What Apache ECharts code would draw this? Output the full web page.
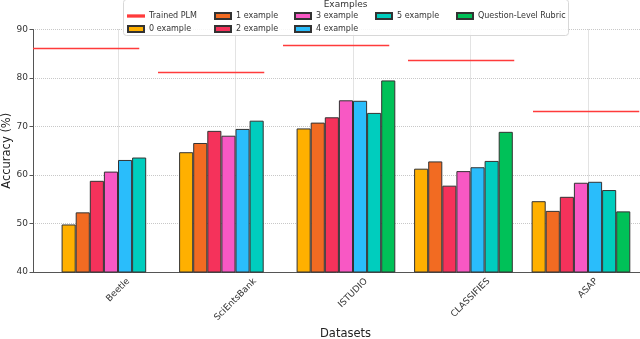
<!DOCTYPE html>
<html>
<head>
<meta charset="utf-8">
<script src="https://cdn.jsdelivr.net/npm/echarts@6/dist/echarts.min.js"></script>
<style>
html, body { margin: 0; padding: 0; background: #fff; }
#chart { width: 640px; height: 339px; }
</style>
</head>
<body>
<div id="chart"></div>
<script>
// values
var datasets = ['Beetle', 'SciEntsBank', 'ISTUDIO', 'CLASSIFIES', 'ASAP'];
var trainedPlm = [86.1, 81.1, 86.7, 83.6, 73.2];
var ex0 = [49.8, 64.7, 69.6, 61.3, 54.6];
var ex1 = [52.3, 66.6, 70.8, 62.8, 52.6];
var ex2 = [58.8, 69.1, 71.9, 57.8, 55.5];
var ex3 = [60.7, 68.1, 75.4, 60.8, 58.4];
var ex4 = [63.1, 69.5, 75.3, 61.6, 58.6];
var ex5 = [63.6, 71.2, 72.8, 62.9, 56.9];
var rubric = ['-', '-', 79.5, 68.9, 52.5];
var yMin = 40, yMax = 90, yStep = 10;

var barNames = ['0 example', '1 example', '2 example', '3 example', '4 example', '5 example', 'Question-Level Rubric'];
var barData = [ex0, ex1, ex2, ex3, ex4, ex5, rubric];
var barColors = ['#FFB000', '#F26B22', '#F5325B', '#F858C4', '#2ABDFB', '#00CDBE', '#00C158'];
var plmColor = '#FF3B3B';

var FONT = '"DejaVu Sans", sans-serif';
var tickSize = 9;
var legendSize = 8;

var chart = echarts.init(document.getElementById('chart'), null, { renderer: 'canvas' });

var series = [];
barNames.forEach(function (name, i) {
  series.push({
    name: name,
    type: 'bar',
    xAxisIndex: 0,
    yAxisIndex: 0,
    data: barData[i],
    barGap: 0,
    barCategoryGap: '4%',
    itemStyle: { color: barColors[i], borderColor: '#333', borderWidth: 1 },
    z: 3
  });
});
// empty 8th slot so each group is laid out like the original (tick at 4th bar edge)
series.push({
  name: 'slot', type: 'bar', xAxisIndex: 0, yAxisIndex: 0,
  data: datasets.map(function () { return '-'; }),
  barGap: 0, barCategoryGap: '4%'
});
series.push({
  name: 'Trained PLM',
  type: 'lines',
  coordinateSystem: 'cartesian2d',
  xAxisIndex: 1,
  yAxisIndex: 1,
  color: plmColor,
  lineStyle: { color: plmColor, width: 1.3, opacity: 1 },
  data: trainedPlm.map(function (v, i) {
    return { coords: [[i, v], [i + 0.85, v]] };
  }),
  z: 4
});

var legendSpots = [
  ['Trained PLM', 127, 12], ['0 example', 127, 25],
  ['1 example', 214, 12], ['2 example', 214, 25],
  ['3 example', 294, 12], ['4 example', 294, 25],
  ['5 example', 375, 12], ['Question-Level Rubric', 456, 12]
];
var legends = legendSpots.map(function (s) {
  var isLine = s[0] === 'Trained PLM';
  return {
    data: [{ name: s[0], icon: 'rect' }],
    left: s[1], top: s[2], padding: 0,
    itemWidth: 16, itemHeight: isLine ? 1.3 : 6,
    selectedMode: false,
    textStyle: { color: '#333', fontSize: legendSize, fontFamily: FONT },
    z: 12
  };
});

var option = {
  animation: false,
  backgroundColor: '#fff',
  textStyle: { fontFamily: FONT },
  grid: [
    { left: 59.25, top: 29.5, width: 587.5, height: 242.5, containLabel: false, outerBoundsMode: 'none' },
    { left: 33, top: 29.5, width: 625, height: 242.5, containLabel: false, outerBoundsMode: 'none' }
  ],
  xAxis: [
    {
      type: 'category', gridIndex: 0, data: datasets,
      axisLine: { show: false }, axisTick: { show: false },
      axisLabel: { show: false },
      splitLine: { show: true, alignWithLabel: true, lineStyle: { color: '#c8c8c8', type: 'dotted', width: 1 } }
    },
    {
      type: 'value', gridIndex: 1, min: 0, max: 5,
      name: 'Datasets', nameLocation: 'middle', nameGap: 56, nameMoveOverlap: false,
      nameTextStyle: { color: '#222', fontSize: 11.5, fontFamily: FONT },
      axisLine: { show: true, lineStyle: { color: '#555', width: 1 } },
      axisTick: { show: false }, axisLabel: { show: false }, splitLine: { show: false }
    }
  ],
  yAxis: [
    { type: 'value', gridIndex: 0, min: yMin, max: yMax, interval: yStep, show: false },
    {
      type: 'value', gridIndex: 1, min: yMin, max: yMax, interval: yStep,
      name: 'Accuracy (%)', nameLocation: 'middle', nameGap: 19.5, nameMoveOverlap: false,
      nameTextStyle: { color: '#222', fontSize: 11.5, fontFamily: FONT },
      axisLine: { show: true, lineStyle: { color: '#555', width: 1 } },
      axisTick: { show: true, length: 3.5, lineStyle: { color: '#555' } },
      axisLabel: { margin: 5, color: '#333', fontSize: tickSize, fontFamily: FONT },
      splitLine: { show: true, lineStyle: { color: '#c8c8c8', type: 'dotted', width: 1 } }
    }
  ],
  legend: legends,
  graphic: [
    {
      id: 'legendFrame', type: 'rect', left: 123, top: -1, z: 10,
      shape: { width: 445, height: 36, r: 3 },
      style: { fill: 'rgba(255,255,255,0.85)', stroke: '#d8d8d8', lineWidth: 1 }
    },
    {
      id: 'legendTitle', type: 'text', x: 345.5, y: 5, z: 11,
      style: { text: 'Examples', fill: '#333', font: '9px ' + FONT, align: 'center', verticalAlign: 'middle' }
    }
  ],
  series: series
};

chart.setOption(option);

// tick labels: rotated 45deg, box centred under the tick, top edge just below the axis
var ctx = document.createElement('canvas').getContext('2d');
ctx.font = tickSize + 'px "DejaVu Sans"';
var labelTop = 277;
var tickLabels = datasets.map(function (d, i) {
  var w = ctx.measureText(d).width;
  var x = chart.convertToPixel({ xAxisIndex: 0 }, d);
  return {
    id: 'tick' + i, type: 'text', x: x, y: labelTop + 0.354 * (w + 8),
    rotation: Math.PI / 4, z: 11,
    style: { text: d, fill: '#333', font: tickSize + 'px ' + FONT, align: 'center', verticalAlign: 'middle' }
  };
});
chart.setOption({ graphic: tickLabels });
</script>
</body>
</html>
